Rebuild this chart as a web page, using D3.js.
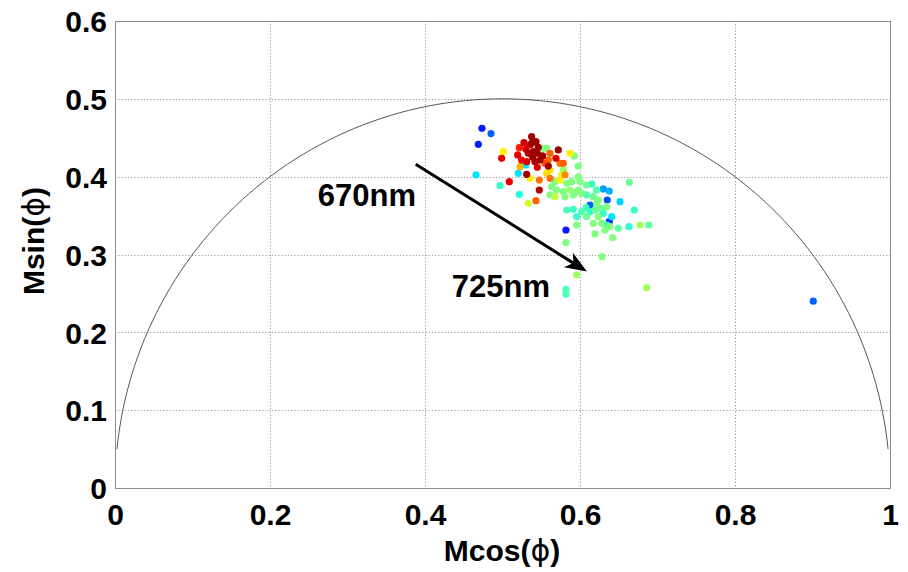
<!DOCTYPE html>
<html>
<head>
<meta charset="utf-8">
<script src="https://cdn.jsdelivr.net/npm/d3@7"></script>
<style>
  html, body { margin: 0; padding: 0; background: #fff; }
  svg { display: block; font-family: "Liberation Sans", Arial, sans-serif; }
</style>
</head>
<body>
<svg id="chart" width="908" height="572"></svg>
<script>
// Polarization phasor samples: M·cos(φ), M·sin(φ), and a colour index (0 = blue … 1 = dark red)
const mcos = [
  0.4735, 0.4852, 0.4688, 0.4658, 0.4989, 0.5011, 0.5217, 0.5196, 0.5376, 0.5432,
  0.5355, 0.5398, 0.5333, 0.5449, 0.5484, 0.5419, 0.5312, 0.5247, 0.5226, 0.5204,
  0.5312, 0.5355, 0.5088, 0.4968, 0.5217, 0.5475, 0.5475, 0.5432, 0.5333, 0.5527,
  0.5570, 0.5613, 0.5591, 0.5720, 0.5690, 0.5591, 0.5613, 0.5742, 0.5785, 0.5871,
  0.5927, 0.5978, 0.5763, 0.5785, 0.5613, 0.5677, 0.5742, 0.5806, 0.5828, 0.5893,
  0.5978, 0.6000, 0.5634, 0.5699, 0.5785, 0.5871, 0.5957, 0.5613, 0.5677, 0.5806,
  0.5914, 0.5978, 0.6086, 0.6151, 0.6215, 0.6172, 0.6237, 0.6301, 0.6378, 0.6352,
  0.6516, 0.6636, 0.6129, 0.6077, 0.6194, 0.6258, 0.6301, 0.6344, 0.6409, 0.6378,
  0.5828, 0.5914, 0.5957, 0.6086, 0.6172, 0.6237, 0.6280, 0.6344, 0.6387, 0.6323,
  0.6422, 0.6495, 0.6632, 0.6701, 0.6774, 0.6886, 0.5957, 0.5819, 0.6194, 0.5819,
  0.6284, 0.5957, 0.5819, 0.5819, 0.6860, 0.6086, 0.6022, 0.6215, 0.6129, 0.6022,
  0.9010, 0.5376, 0.5303, 0.5462, 0.5518, 0.5389, 0.5449, 0.5548, 0.5570, 0.5277,
  0.5299
];
const msin = [
  0.4621, 0.4553, 0.4416, 0.4022, 0.4236, 0.4321, 0.4373, 0.4279, 0.4514, 0.4450,
  0.4407, 0.4321, 0.4300, 0.4300, 0.4214, 0.4193, 0.4193, 0.4214, 0.4129, 0.4043,
  0.4030, 0.3979, 0.3936, 0.3884, 0.3773, 0.3829, 0.3957, 0.3692, 0.3658, 0.4364,
  0.4364, 0.4300, 0.4214, 0.4343, 0.4236, 0.4137, 0.4086, 0.4172, 0.4172, 0.4300,
  0.4266, 0.4137, 0.4022, 0.4086, 0.3979, 0.3936, 0.3957, 0.4022, 0.3915, 0.3936,
  0.4000, 0.3936, 0.3872, 0.3829, 0.3807, 0.3829, 0.3807, 0.3765, 0.3743, 0.3743,
  0.3765, 0.3829, 0.3765, 0.3906, 0.3829, 0.3743, 0.3700, 0.3842, 0.3816, 0.3700,
  0.3679, 0.3927, 0.3636, 0.3602, 0.3572, 0.3593, 0.3529, 0.3615, 0.3486, 0.3422,
  0.3572, 0.3581, 0.3486, 0.3486, 0.3401, 0.3486, 0.3401, 0.3379, 0.3357, 0.3315,
  0.3216, 0.3337, 0.3357, 0.3572, 0.3379, 0.3379, 0.3379, 0.3315, 0.3264, 0.3152,
  0.2972, 0.2737, 0.2553, 0.2489, 0.2574, 0.3893, 0.3786, 0.3658, 0.3550, 0.3550,
  0.2400, 0.4429, 0.4351, 0.4377, 0.4266, 0.4249, 0.4121, 0.4172, 0.4043, 0.4437,
  0.4150
];
const colourIndex = [
  0.15, 0.22, 0.15, 0.35, 0.90, 0.64, 0.85, 0.90, 0.97, 0.97,
  0.90, 0.97, 0.95, 0.97, 0.97, 0.95, 0.90, 0.88, 0.70, 0.35,
  0.97, 0.64, 0.90, 0.43, 0.40, 0.95, 0.76, 0.78, 0.58, 0.50,
  0.50, 0.78, 0.78, 0.97, 0.90, 0.97, 0.65, 0.76, 0.78, 0.64,
  0.50, 0.50, 0.58, 0.52, 0.76, 0.50, 0.64, 0.74, 0.50, 0.50,
  0.50, 0.50, 0.50, 0.50, 0.50, 0.52, 0.50, 0.50, 0.56, 0.50,
  0.50, 0.50, 0.45, 0.43, 0.45, 0.48, 0.50, 0.28, 0.30, 0.20,
  0.33, 0.48, 0.22, 0.44, 0.48, 0.48, 0.42, 0.50, 0.35, 0.17,
  0.45, 0.43, 0.43, 0.48, 0.50, 0.50, 0.50, 0.43, 0.50, 0.50,
  0.50, 0.46, 0.42, 0.43, 0.54, 0.47, 0.50, 0.15, 0.50, 0.50,
  0.50, 0.53, 0.45, 0.45, 0.53, 0.48, 0.50, 0.50, 0.42, 0.45,
  0.22, 0.97, 0.92, 0.97, 0.97, 0.97, 0.90, 0.80, 0.66, 0.92,
  0.35
];

const xTicks = [0, 0.2, 0.4, 0.6, 0.8, 1];
const yTicks = [0, 0.1, 0.2, 0.3, 0.4, 0.5, 0.6];
const xTickLabels = ["0", "0.2", "0.4", "0.6", "0.8", "1"];
const yTickLabels = ["0", "0.1", "0.2", "0.3", "0.4", "0.5", "0.6"];

// Wavelength trend arrow (data coordinates) and its end labels
const arrowFrom = [0.388, 0.416];
const arrowTo = [0.609, 0.278];
const startLabel = { text: "670nm", x: 0.325, y: 0.362 };
const endLabel = { text: "725nm", x: 0.498, y: 0.245 };

const svg = d3.select("#chart");
const plotL = 115, plotR = 890, plotT = 21, plotB = 488;

const x = d3.scaleLinear().domain([0, 1]).range([plotL, plotR]);
const y = d3.scaleLinear().domain([0, 0.6]).range([plotB, plotT]);

// MATLAB-style jet colormap
const clamp = v => Math.max(0, Math.min(1, v));
function jet(c) {
  const r = clamp(1.5 - Math.abs(4 * c - 3));
  const g = clamp(1.5 - Math.abs(4 * c - 2));
  const b = clamp(1.5 - Math.abs(4 * c - 1));
  return d3.rgb(r * 255, g * 255, b * 255).formatHex();
}

// Dotted grid
const grid = svg.append("g").attr("stroke", "#9a9a9a").attr("stroke-width", 1)
  .attr("stroke-dasharray", "1.2,2");
grid.selectAll("line.v").data(xTicks.slice(1, -1)).join("line")
  .attr("x1", d => Math.round(x(d)) + 0.5).attr("x2", d => Math.round(x(d)) + 0.5)
  .attr("y1", plotT).attr("y2", plotB);
grid.selectAll("line.h").data(yTicks.slice(1, -1)).join("line")
  .attr("y1", d => Math.round(y(d)) + 0.5).attr("y2", d => Math.round(y(d)) + 0.5)
  .attr("x1", plotL).attr("x2", plotR);

// Unit semicircle |M| = 1 centred on (0.5, 0)
const theta = d3.range(0.1, Math.PI - 0.1 + 1e-9, (Math.PI - 0.2) / 120);
const arc = theta.map(t => [0.5 + 0.5 * Math.cos(t), 0.5 * Math.sin(t)]);
svg.append("path")
  .attr("d", d3.line().x(d => x(d[0])).y(d => y(d[1]))(arc))
  .attr("fill", "none").attr("stroke", "#444").attr("stroke-width", 0.9);

// Frame
svg.append("rect")
  .attr("x", plotL + 0.5).attr("y", plotT + 0.5)
  .attr("width", plotR - plotL).attr("height", plotB - plotT)
  .attr("fill", "none").attr("stroke", "#8c8c8c").attr("stroke-width", 1);

// Axes (tick labels only)
const xAxis = d3.axisBottom(x).tickValues(xTicks)
  .tickFormat((d, i) => xTickLabels[i]).tickSize(0).tickPadding(16);
const yAxis = d3.axisLeft(y).tickValues(yTicks)
  .tickFormat((d, i) => yTickLabels[i]).tickSize(0).tickPadding(8);

const gx = svg.append("g").attr("transform", `translate(0,${plotB})`).call(xAxis);
const gy = svg.append("g").attr("transform", `translate(${plotL},0)`).call(yAxis);
[gx, gy].forEach(g => {
  g.select(".domain").remove();
  g.selectAll("text")
    .attr("font-family", "'Liberation Sans', Arial, sans-serif")
    .attr("font-size", 30).attr("font-weight", "bold").attr("fill", "#000");
});
gx.selectAll("text").attr("dy", "0.71em");
gy.selectAll("text").attr("dy", "0.36em");

// Scatter points, warm colours drawn last
const pts = d3.range(mcos.length).map(i => ({ x: mcos[i], y: msin[i], c: colourIndex[i] }))
  .sort((a, b) => a.c - b.c);
svg.append("g").selectAll("circle").data(pts).join("circle")
  .attr("cx", d => x(d.x)).attr("cy", d => y(d.y)).attr("r", 3.6)
  .attr("fill", d => jet(d.c));

// Arrow
const ax0 = x(arrowFrom[0]), ay0 = y(arrowFrom[1]);
const ax1 = x(arrowTo[0]), ay1 = y(arrowTo[1]);
const ang = Math.atan2(ay1 - ay0, ax1 - ax0);
const headLen = 22, headHalf = 8.5, notch = 6;
const ux = Math.cos(ang), uy = Math.sin(ang);
const bx = ax1 - ux * headLen, by = ay1 - uy * headLen;
svg.append("line")
  .attr("x1", ax0).attr("y1", ay0)
  .attr("x2", bx + ux * notch).attr("y2", by + uy * notch)
  .attr("stroke", "#000").attr("stroke-width", 3);
svg.append("path")
  .attr("d", `M${ax1},${ay1} L${bx - uy * headHalf},${by + ux * headHalf} L${bx + ux * notch},${by + uy * notch} L${bx + uy * headHalf},${by - ux * headHalf} Z`)
  .attr("fill", "#000");

// Wavelength labels
[startLabel, endLabel].forEach(l => {
  svg.append("text")
    .attr("x", x(l.x)).attr("y", y(l.y))
    .attr("text-anchor", "middle")
    .attr("font-size", 31).attr("font-weight", "bold").attr("fill", "#000")
    .text(l.text);
});

// Axis titles
const xt = svg.append("text")
  .attr("x", 502).attr("y", 561)
  .attr("text-anchor", "middle")
  .attr("font-size", 30).attr("font-weight", "bold").attr("fill", "#000");
xt.append("tspan").text("Mcos(");
xt.append("tspan").attr("font-weight", "normal").attr("font-family", "'DejaVu Sans', sans-serif").text("ϕ");
xt.append("tspan").text(")");

const yt = svg.append("text")
  .attr("transform", "translate(44,241) rotate(-90)")
  .attr("text-anchor", "middle")
  .attr("font-size", 30).attr("font-weight", "bold").attr("fill", "#000");
yt.append("tspan").text("Msin(");
yt.append("tspan").attr("font-weight", "normal").attr("font-family", "'DejaVu Sans', sans-serif").text("ϕ");
yt.append("tspan").text(")");
</script>
</body>
</html>
